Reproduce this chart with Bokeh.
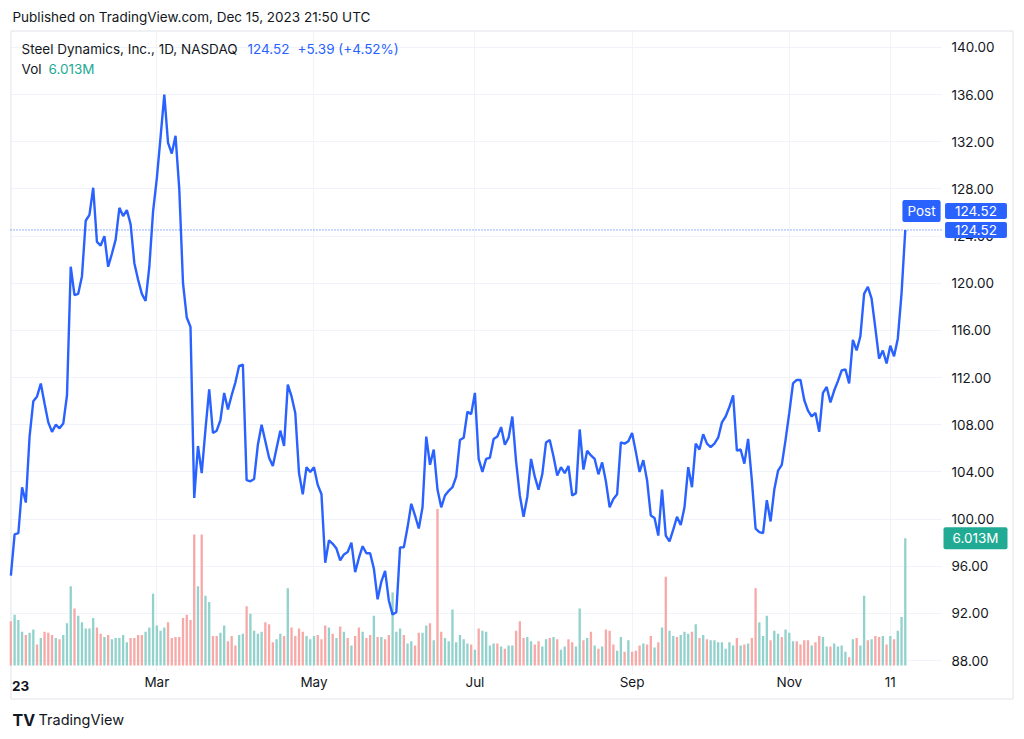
from bokeh.plotting import figure
from bokeh.models import (ColumnDataSource, Range1d, FixedTicker, Label)
from bokeh.embed import file_html
from bokeh.resources import INLINE

# ---------------- data ----------------
close = [
    95.2, 98.7, 98.8, 102.7, 101.4, 107.0, 110.0, 110.4, 111.5, 109.8,
    108.2, 107.4, 108.0, 107.7, 108.1, 110.5, 121.4, 119.0, 119.1, 120.6,
    125.3, 125.8, 128.1, 123.5, 123.2, 124.0, 121.4, 122.5, 123.7, 126.4,
    125.7, 126.2, 125.0, 121.7, 120.3, 119.1, 118.5, 121.4, 126.1, 128.9,
    132.4, 136.0, 131.9, 131.0, 132.5, 128.0, 120.0, 117.1, 116.3, 101.8,
    106.2, 103.9, 107.6, 111.0, 107.3, 107.5, 108.4, 110.7, 109.3, 110.5,
    111.6, 113.0, 113.1, 103.3, 103.2, 103.4, 106.3, 108.0, 106.6, 105.2,
    104.5, 106.0, 107.5, 106.2, 111.4, 110.4, 109.0, 103.9, 102.1, 104.4,
    104.0, 104.4, 102.9, 102.1, 96.3, 98.2, 97.9, 97.5, 96.5, 97.0,
    97.2, 98.0, 95.5, 96.7, 97.7, 97.1, 97.1, 95.8, 93.2, 94.7,
    95.6, 93.1, 91.9, 92.1, 97.6, 97.6, 99.3, 101.3, 100.3, 99.2,
    101.0, 107.0, 104.6, 105.9, 102.5, 101.0, 102.0, 102.4, 102.7, 103.6,
    106.7, 106.9, 109.1, 108.9, 110.7, 105.1, 104.0, 105.1, 105.2, 106.8,
    107.0, 107.8, 106.3, 106.9, 108.7, 104.9, 102.0, 100.2, 101.9, 105.1,
    103.6, 102.5, 103.8, 106.5, 106.7, 105.3, 103.7, 104.4, 103.9, 104.5,
    102.0, 102.2, 107.6, 104.2, 105.8, 105.4, 105.1, 103.8, 104.8, 103.2,
    101.0, 101.7, 102.1, 106.5, 106.4, 106.6, 107.3, 105.7, 104.0, 105.0,
    103.3, 100.3, 100.1, 98.6, 102.5, 98.6, 98.1, 99.1, 100.2, 99.5,
    101.0, 104.4, 102.7, 106.4, 105.9, 107.2, 106.4, 106.1, 106.4, 106.9,
    108.2, 108.7, 109.5, 110.5, 105.8, 105.9, 104.7, 106.8, 103.3, 99.2,
    98.9, 98.8, 101.6, 99.8, 102.5, 104.1, 104.6, 106.7, 109.0, 111.5,
    111.8, 111.8, 110.1, 109.2, 108.7, 109.0, 107.4, 110.7, 111.2, 109.9,
    110.9, 111.7, 112.6, 112.7, 111.5, 115.2, 114.3, 115.5, 119.1, 119.7,
    118.7, 116.2, 113.6, 114.3, 113.2, 114.7, 113.8, 115.3, 119.13, 124.52,
]

volume = [
    2.1, 2.4, 2.15, 1.6, 1.45, 1.55, 1.7, 1.0, 1.3, 1.6,
    1.55, 1.45, 1.3, 1.25, 1.45, 2.0, 3.75, 2.7, 2.35, 2.05,
    1.75, 1.75, 2.25, 1.8, 1.5, 1.35, 1.45, 1.25, 1.3, 1.3,
    1.45, 1.1, 1.3, 1.3, 1.45, 1.45, 1.6, 1.8, 3.4, 1.9,
    1.65, 1.8, 2.05, 1.3, 1.35, 1.35, 2.25, 2.4, 2.15, 6.2,
    3.75, 6.2, 3.3, 3.0, 1.4, 1.4, 1.55, 1.9, 1.15, 1.4,
    0.95, 1.45, 1.5, 2.8, 2.45, 1.65, 1.5, 1.6, 2.05, 1.95,
    1.1, 1.25, 1.5, 1.4, 3.65, 1.8, 1.4, 1.75, 1.6, 1.4,
    1.25, 1.4, 1.45, 1.25, 1.9, 1.8, 1.5, 1.3, 1.85, 1.6,
    1.3, 0.95, 1.4, 1.8, 1.6, 1.3, 1.45, 2.35, 1.35, 1.35,
    1.25, 1.45, 3.45, 1.6, 1.75, 1.45, 1.05, 1.15, 0.95, 1.55,
    1.55, 1.9, 2.0, 1.2, 7.4, 1.6, 1.3, 1.15, 2.65, 1.1,
    1.45, 1.25, 1.05, 1.0, 0.75, 1.75, 1.65, 1.6, 0.95, 1.05,
    1.05, 0.9, 0.8, 0.95, 0.95, 1.65, 2.1, 1.3, 1.35, 1.15,
    1.0, 1.15, 0.9, 1.25, 1.3, 1.35, 1.25, 0.75, 0.9, 1.25,
    1.1, 0.9, 2.7, 1.2, 1.3, 1.6, 0.95, 0.8, 0.9, 1.7,
    1.65, 1.0, 0.7, 1.35, 0.65, 1.2, 0.65, 0.7, 0.95, 1.05,
    1.0, 1.4, 0.85, 1.1, 1.8, 4.2, 1.65, 1.4, 1.35, 1.45,
    1.6, 1.5, 1.6, 1.95, 1.3, 1.45, 1.25, 1.2, 1.2, 1.1,
    1.1, 0.8, 1.1, 0.95, 1.3, 0.95, 1.0, 1.05, 1.3, 3.65,
    2.05, 1.4, 2.35, 1.2, 1.65, 1.5, 1.35, 1.7, 1.55, 1.15,
    1.15, 1.0, 1.2, 1.2, 0.95, 1.1, 1.4, 1.35, 0.9, 0.9,
    1.05, 0.9, 0.95, 0.65, 0.4, 1.25, 1.3, 0.95, 3.3, 1.2,
    1.25, 1.4, 1.35, 1.4, 1.0, 1.4, 1.25, 1.65, 2.3, 6.013,
]

# u = up-day volume bar (teal), d = down-day volume bar (red)
direction = list(
    "duuuduudud" "dduduuuduu" "uuudduduuu" "uudddduuuu" "uudddddddd"
    "uduudduudd" "duuduuuudd" "duududdddu" "uudddududu" "duddud"
    "dududduuud" "uudduududd" "uuuuuuudud" "uuuududuud" "dduudduu"
    "duduudduud" "udududdduu" "duddduddud" "uduuduuudu" "duduuuuu"
    "uudududduu" "uduuduuudd" "ddudduuduu" "uududuudud" "dududuuu"
)

month_ticks = [39, 81, 124, 166, 208, 235]
month_labels = ["Mar", "May", "Jul", "Sep", "Nov", "11"]
year_label = "23"
price_ticks = list(range(88, 141, 4))

published = "Published on TradingView.com, Dec 15, 2023 21:50 UTC"
symbol = "Steel Dynamics, Inc., 1D, NASDAQ"
last_close = 124.52
change_txt = "+5.39 (+4.52%)"
last_vol = 6.013

# ---------------- styling / layout ----------------
FONT = "Inter"
FS = "13.5px"
TXT = "#131722"
BLUE = "#2962ff"
TEAL = "#22ab94"
UP = "#92d2cc"
DOWN = "#f7a9a7"
GRID = "#f0f3fa"
BOX = "#e0e3eb"

W, H = 1020, 735
X_RANGE = (-2.77, 269.52)          # whole canvas, trading-day index
Y_RANGE = (81.73, 143.98)          # whole canvas, price
V_RANGE = (-3.256, 31.43)          # whole canvas, volume (M)
PANE_X = (-0.1, 248.7)             # price pane extent (index)
PANE_Y = (87.07, 141.44)           # price pane extent (price)
FRAME_PX = (10.5, 1012.5, 30.5, 698.5)  # outer chart frame: left, right, top, bottom (px)


def px_x(px):
    return X_RANGE[0] + px / (W - 1) * (X_RANGE[1] - X_RANGE[0])


def px_y(px):
    return Y_RANGE[1] - px / (H - 1) * (Y_RANGE[1] - Y_RANGE[0])


n = len(close)
idx = list(range(n))
dirs = (direction + ["u"] * n)[:n]
colors = [UP if d == "u" else DOWN for d in dirs]
src = ColumnDataSource(dict(x=idx, close=close, vol=volume[:n], color=colors))

p = figure(width=W, height=H, output_backend="svg", toolbar_location=None,
           x_range=Range1d(*X_RANGE), y_range=Range1d(*Y_RANGE),
           min_border_left=0, min_border_right=1, min_border_top=0,
           min_border_bottom=1, y_axis_location="right")
p.outline_line_color = None
p.background_fill_color = "white"
p.border_fill_color = "white"
p.extra_y_ranges = {"vol": Range1d(*V_RANGE)}

# grids, confined to the price pane
p.xgrid.ticker = FixedTicker(ticks=month_ticks)
p.ygrid.ticker = FixedTicker(ticks=price_ticks)
p.xgrid.grid_line_color = GRID
p.ygrid.grid_line_color = GRID
p.xgrid.cross_bounds = PANE_Y
p.ygrid.cross_bounds = PANE_X

# axes (labels drawn inside the canvas)
for ax in (p.xaxis[0], p.yaxis[0]):
    ax.axis_line_color = None
    ax.major_tick_line_color = None
    ax.minor_tick_line_color = None
    ax.major_tick_out = 0
    ax.major_tick_in = 0
    ax.major_label_text_font = FONT
    ax.major_label_text_font_size = FS
    ax.major_label_text_color = TXT

p.xaxis.ticker = FixedTicker(ticks=month_ticks)
p.xaxis.major_label_overrides = {t: l for t, l in zip(month_ticks, month_labels)}
p.xaxis.major_label_standoff = -61

p.yaxis.ticker = FixedTicker(ticks=price_ticks)
p.yaxis.major_label_overrides = {t: f"{t:.2f}" for t in price_ticks}
p.yaxis.major_label_standoff = -68

# outer frame of the chart
fl, fr, ft, fb = FRAME_PX
p.quad(left=[px_x(fl)], right=[px_x(fr)], top=[px_y(ft)], bottom=[px_y(fb)],
       fill_color=None, line_color=BOX, line_width=1)

# volume bars
p.vbar(x="x", top="vol", bottom=0, width=0.62, fill_color="color", line_color=None,
       source=src, y_range_name="vol")

# price line
p.line("x", "close", source=src, line_color=BLUE, line_width=2.4)

# last price dotted line
p.segment(x0=[PANE_X[0]], x1=[PANE_X[1]], y0=[last_close], y1=[last_close],
          line_color=BLUE, line_width=1, line_dash="1 2")


def lab(text, x, y, color=TXT, size=FS, style="normal", **kw):
    p.add_layout(Label(text=text, x=x, y=y, x_units="canvas", y_units="canvas",
                       text_color=color, text_font=FONT, text_font_size=size,
                       text_font_style=style, text_baseline="middle", **kw))


lab(published, 12, 16)
lab(symbol, 21, 48)
lab(f"{last_close:.2f}", 247, 48, color=BLUE)
lab(change_txt, 297, 48, color=BLUE)
lab("Vol", 21, 68)
lab(f"{last_vol:.3f}M", 48, 68, color=TEAL)
lab("TV", 12, 719, size="16px", style="bold")
lab("TradingView", 38, 719, size="14.5px")

# year label on the time axis
p.add_layout(Label(text=year_label, x=2.6, y=685, x_units="data", y_units="canvas",
                   text_color=TXT, text_font=FONT, text_font_size=FS,
                   text_font_style="bold", text_align="center", text_baseline="middle"))


def tag(text, x, y, fill, y_units="data", y_range_name="default", px=10):
    p.add_layout(Label(text=text, x=x, y=y, x_units="canvas", y_units=y_units,
                       y_range_name=y_range_name, text_color="white",
                       text_font=FONT, text_font_size=FS, text_align="center",
                       text_baseline="middle", background_fill_color=fill,
                       padding=dict(x=px, y=3), border_radius=2))


tag(f"{last_close:.2f}", 975.5, last_close, BLUE)
tag(f"{last_close:.2f}", 975.5, 210.5, BLUE, y_units="canvas")
tag("Post", 921, 210.5, BLUE, y_units="canvas", px=5)
tag(f"{last_vol:.3f}M", 975, last_vol, TEAL, y_range_name="vol", px=9)

open("out.html", "w").write(file_html(p, INLINE))
